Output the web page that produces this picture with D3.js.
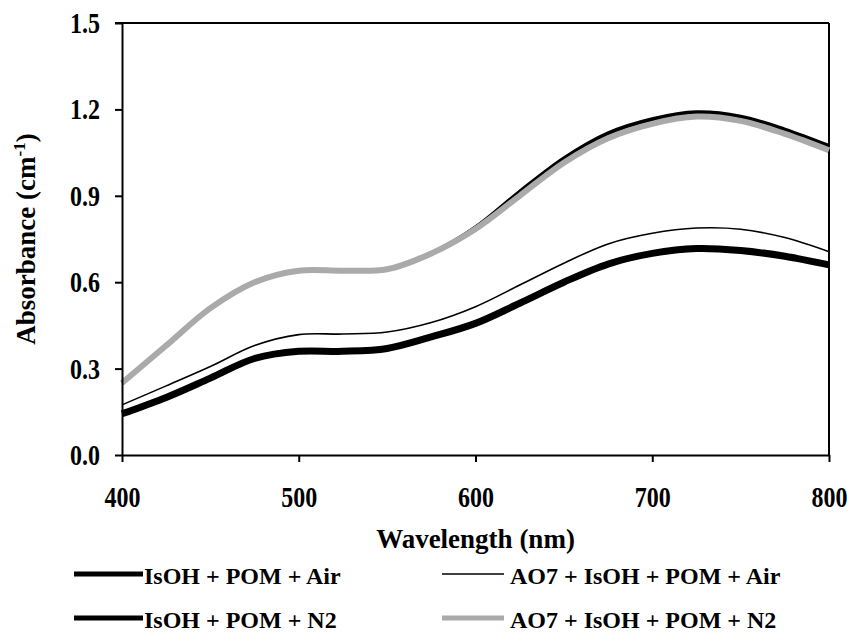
<!DOCTYPE html>
<head>
  <meta charset="utf-8">
  <script src="https://d3js.org/d3.v7.min.js"></script>
  <style>
    body { margin:0; background:#fff; }
    text { font-family: "Liberation Serif", "Times New Roman", serif; font-weight: bold; fill:#000; }
  </style>
</head>

<body>
  <script>
    // wavelengths (nm)
    var wavelengths = [400, 425, 450, 475, 500, 525, 550, 575, 600, 625, 650, 675, 700, 725, 750, 775, 800];
    // absorbance
    var isohPomAir   = [0.143, 0.200, 0.267, 0.335, 0.360, 0.360, 0.370, 0.410, 0.457, 0.527, 0.600, 0.663, 0.700, 0.717, 0.710, 0.690, 0.660];
    var isohPomN2    = [0.250, 0.380, 0.510, 0.600, 0.640, 0.640, 0.645, 0.700, 0.790, 0.914, 1.030, 1.117, 1.166, 1.190, 1.175, 1.130, 1.073];
    var ao7PomAir    = [0.174, 0.240, 0.307, 0.380, 0.418, 0.420, 0.427, 0.460, 0.515, 0.590, 0.666, 0.733, 0.770, 0.788, 0.784, 0.755, 0.706];
    var ao7PomN2     = [0.250, 0.380, 0.510, 0.600, 0.640, 0.640, 0.645, 0.700, 0.785, 0.900, 1.015, 1.100, 1.150, 1.175, 1.160, 1.115, 1.058];
    var xTicks = [400, 500, 600, 700, 800];
    var yTicks = [0, 0.3, 0.6, 0.9, 1.2, 1.5];

    var series = [
      {name: "IsOH + POM + Air", values: isohPomAir, color: "#000", width: 7},
      {name: "AO7 + IsOH + POM + Air", values: ao7PomAir, color: "#000", width: 1.6},
      {name: "IsOH + POM + N2", values: isohPomN2, color: "#000", width: 4},
      {name: "AO7 + IsOH + POM + N2", values: ao7PomN2, color: "#aaa", width: 6}
    ];

    var W = 847, H = 634;
    var plotL = 122, plotR = 829, plotT = 23, plotB = 455;
    var stretch = 1.2; // tick labels are drawn tall in the original

    var svg = d3.select("body").append("svg")
      .attr("width", W)
      .attr("height", H);

    var x = d3.scaleLinear().domain([400, 800]).range([plotL, plotR]);
    var y = d3.scaleLinear().domain([0, 1.5]).range([plotB, plotT]);

    // frame (top and right)
    svg.append("line").attr("x1", plotL - 7).attr("x2", plotR).attr("y1", plotT).attr("y2", plotT)
      .attr("stroke", "#000").attr("stroke-width", 2);
    svg.append("line").attr("x1", plotR).attr("x2", plotR).attr("y1", plotT).attr("y2", plotB)
      .attr("stroke", "#000").attr("stroke-width", 2);

    var line = d3.line()
      .x(function (d, i) { return x(wavelengths[i]); })
      .y(function (d) { return y(d); })
      .curve(d3.curveCatmullRom.alpha(0.5));

    // draw order: N2 black under grey, then grey, then air curves
    var order = [2, 3, 1, 0];
    order.forEach(function (k) {
      var s = series[k];
      svg.append("path")
        .datum(s.values)
        .attr("d", line)
        .attr("fill", "none")
        .attr("stroke", s.color)
        .attr("stroke-width", s.width)
        .attr("stroke-linejoin", "round");
    });

    var xAxis = svg.append("g")
      .attr("transform", "translate(0," + plotB + ")")
      .call(d3.axisBottom(x).tickValues(xTicks).tickSize(7).tickSizeOuter(0));
    var yAxis = svg.append("g")
      .attr("transform", "translate(" + plotL + ",0)")
      .call(d3.axisLeft(y).tickValues(yTicks).tickSize(7).tickSizeOuter(0).tickPadding(15)
        .tickFormat(d3.format(".1f")));

    [xAxis, yAxis].forEach(function (a) {
      a.select(".domain").attr("stroke-width", 2);
      a.selectAll(".tick line").attr("stroke-width", 2);
      a.selectAll("text").style("font-size", "24px")
        .style("font-family", '"Liberation Serif", serif').style("font-weight", "bold")
        .attr("transform", "scale(1," + stretch + ")");
    });
    xAxis.selectAll("text").attr("dy", null).attr("y", 52 / stretch);
    yAxis.selectAll("text").attr("dy", "0.33em");

    // axis titles
    svg.append("text")
      .attr("x", (plotL + plotR) / 2)
      .attr("y", 548)
      .attr("text-anchor", "middle")
      .style("font-size", "27px")
      .text("Wavelength (nm)");

    var yt = svg.append("text")
      .attr("transform", "translate(35," + (plotT + plotB) / 2 + ") rotate(-90)")
      .attr("text-anchor", "middle")
      .style("font-size", "27px");
    yt.append("tspan").text("Absorbance (cm");
    yt.append("tspan").attr("dy", -10).style("font-size", "17px").text("-1");
    yt.append("tspan").attr("dy", 10).text(")");

    // legend
    var legendPos = [
      {x: 74, y: 577, len: 69},
      {x: 442, y: 577, len: 62},
      {x: 74, y: 621, len: 69},
      {x: 442, y: 621, len: 62}
    ];
    var legendWidth = [5, 1.6, 5, 5];
    series.forEach(function (s, i) {
      var p = legendPos[i];
      svg.append("line")
        .attr("x1", p.x).attr("x2", p.x + p.len)
        .attr("y1", p.y - 3).attr("y2", p.y - 3)
        .attr("stroke", s.color)
        .attr("stroke-width", legendWidth[i]);
      svg.append("text")
        .attr("x", p.x + p.len + (i % 2 ? 6 : 1))
        .attr("y", p.y + 7)
        .style("font-size", "24px")
        .text(s.name);
    });
  </script>
</body>
